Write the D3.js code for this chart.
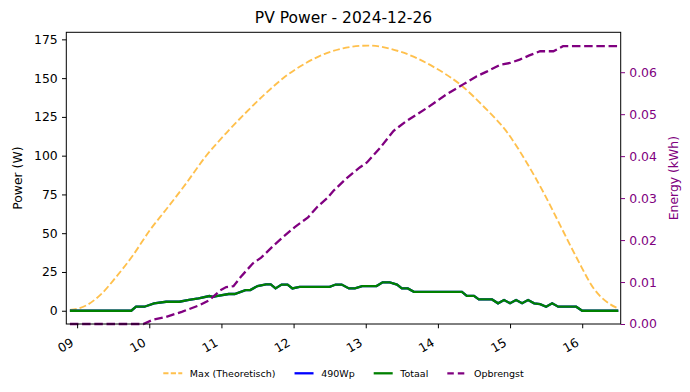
<!DOCTYPE html>
<html>
<head>
<meta charset="utf-8">
<title>PV Power - 2024-12-26</title>
<script src="https://cdn.jsdelivr.net/npm/d3@7"></script>
<style>
body { margin: 0; background: #fff; }
svg text { font-family: "DejaVu Sans", sans-serif; }
</style>
</head>
<body>
<svg width="690" height="392"></svg>
<script>
// theoretical max curve (W)
var maxTimes = ["08:54","09:07","09:20","09:32","09:46","10:01","10:14","10:31","10:47","11:04","11:20","11:37","11:53","12:10","12:27","12:41","13:02","13:29","13:56","14:19","14:38","14:58","15:14","15:28","15:42","15:56","16:10","16:23","16:30"];
var maxVals  = [0.5, 3.2, 10.7, 21.4, 35.3, 52.5, 65.3, 82.5, 99.6, 114.6, 127.5, 140.3, 151, 159.6, 166, 169.2, 171, 167, 157.4, 145.6, 131.7, 114.6, 95.3, 76, 54.6, 33.2, 13.9, 4.3, 1.5];

// measured power (W), one panel so 490Wp == Totaal
var pwrTimes = ["08:54","09:45","09:49","09:56","10:04","10:14","10:25","10:33","10:41","10:50","10:53","10:57","11:06","11:11","11:20","11:24","11:30","11:37","11:41","11:45","11:50","11:55","11:59","12:05","12:30","12:35","12:40","12:46","12:51","12:57","13:09","13:14","13:20","13:26","13:30","13:35","13:40","14:20","14:24","14:30","14:34","14:45","14:50","14:55","15:00","15:05","15:10","15:15","15:20","15:25","15:30","15:35","15:40","15:55","16:00","16:30"];
var p490Vals = [0, 0, 2.6, 2.6, 4.8, 5.8, 5.8, 7.0, 8.0, 9.5, 9.0, 9.6, 10.8, 10.8, 13.3, 13.3, 15.9, 17.0, 17.0, 14.4, 16.9, 16.9, 14.4, 15.4, 15.4, 16.9, 16.9, 14.4, 14.4, 15.9, 15.9, 18.3, 18.3, 16.9, 14.4, 14.4, 12.2, 12.2, 9.6, 9.6, 7.3, 7.3, 4.8, 6.9, 4.8, 6.9, 4.8, 6.9, 4.8, 4.3, 2.6, 4.8, 2.6, 2.6, 0, 0];
var totVals  = p490Vals.slice();

// cumulative energy (kWh)
var enTimes = ["08:54","09:55","10:03","10:14","10:27","10:42","10:50","10:59","11:04","11:10","11:16","11:26","11:33","11:43","11:52","12:01","12:12","12:20","12:28","12:33","12:44","12:55","13:01","13:12","13:23","13:34","13:51","14:07","14:21","14:32","14:41","14:52","15:00","15:08","15:16","15:25","15:36","15:44","16:30"];
var enVals  = [0, 0, 0.0010, 0.0017, 0.0029, 0.0045, 0.0057, 0.0080, 0.0088, 0.0090, 0.0112, 0.0144, 0.0158, 0.0186, 0.0209, 0.0231, 0.0254, 0.0280, 0.0300, 0.0317, 0.0347, 0.0373, 0.0385, 0.0420, 0.0460, 0.0484, 0.0515, 0.0547, 0.0571, 0.0590, 0.0602, 0.0618, 0.0622, 0.0630, 0.0640, 0.0650, 0.0650, 0.0662, 0.0662];

var powerTicks  = [0, 25, 50, 75, 100, 125, 150, 175];
var energyTicks = [0, 0.01, 0.02, 0.03, 0.04, 0.05, 0.06];

var svg = d3.select("svg");
var plotL = 66.3, plotR = 620.7, plotT = 32.3, plotB = 324;
var fs = 12.4;

var parse = d3.timeParse("%Y-%m-%d %H:%M");
function tp(s) { return parse("2024-12-26 " + s); }

var x = d3.scaleTime()
    .domain([tp("08:51"), tp("16:32")])
    .range([plotL, plotR]);

var M = d3.max(maxVals);
var y = d3.scaleLinear()
    .domain([-0.05 * M, 1.05 * M])
    .range([plotB, plotT]);

var y2 = d3.scaleLinear()
    .domain([0, 1.05 * d3.max(enVals)])
    .range([plotB, plotT]);

function pts(times, vals) {
  return times.map(function(t, i) { return [tp(t), vals[i]]; });
}

var line1 = d3.line().x(function(d) { return x(d[0]); }).y(function(d) { return y(d[1]); });
var line2 = d3.line().x(function(d) { return x(d[0]); }).y(function(d) { return y2(d[1]); });
var smooth = d3.line().curve(d3.curveMonotoneX).x(function(d) { return x(d[0]); }).y(function(d) { return y(d[1]); });

// lines
svg.append("path").datum(pts(maxTimes, maxVals))
    .attr("fill", "none").attr("stroke", "orange").attr("stroke-opacity", 0.7)
    .attr("stroke-width", 1.86).attr("stroke-dasharray", "6.9,3")
    .attr("d", smooth);

svg.append("path").datum(pts(pwrTimes, p490Vals))
    .attr("fill", "none").attr("stroke", "blue").attr("stroke-width", 2.3)
    .attr("d", line1);

svg.append("path").datum(pts(pwrTimes, totVals))
    .attr("fill", "none").attr("stroke", "green").attr("stroke-width", 2.3)
    .attr("d", line1);

svg.append("path").datum(pts(enTimes, enVals))
    .attr("fill", "none").attr("stroke", "purple").attr("stroke-width", 2.3)
    .attr("stroke-dasharray", "8.5,3.7")
    .attr("d", line2);

// frame
svg.append("rect")
    .attr("x", plotL).attr("y", plotT)
    .attr("width", plotR - plotL).attr("height", plotB - plotT)
    .attr("fill", "none").attr("stroke", "#000").attr("stroke-width", 1);

// left axis
var gl = svg.append("g").attr("transform", "translate(" + plotL + ",0)")
    .call(d3.axisLeft(y).tickValues(powerTicks).tickSize(4.3).tickPadding(4.3));
gl.select(".domain").remove();
gl.selectAll("text").attr("font-size", fs).attr("font-family", "DejaVu Sans").attr("fill", "#000");

// right axis
var gr = svg.append("g").attr("transform", "translate(" + plotR + ",0)")
    .call(d3.axisRight(y2).tickValues(energyTicks).tickFormat(d3.format(".2f")).tickSize(4.3).tickPadding(4.3));
gr.select(".domain").remove();
gr.selectAll("line").attr("stroke", "purple");
gr.selectAll("text").attr("font-size", fs).attr("font-family", "DejaVu Sans").attr("fill", "purple");

// x axis
var gx = svg.append("g").attr("transform", "translate(0," + plotB + ")")
    .call(d3.axisBottom(x).ticks(d3.timeHour.every(1)).tickFormat(d3.timeFormat("%H")).tickSize(4.3));
gx.select(".domain").remove();
gx.selectAll("text")
    .attr("font-size", fs).attr("font-family", "DejaVu Sans").attr("fill", "#000")
    .attr("x", 0).attr("y", 0).attr("dy", null)
    .attr("text-anchor", "end")
    .attr("transform", "translate(-3,21) rotate(-30)");

// labels
svg.append("text").attr("x", 343.5).attr("y", 23)
    .attr("text-anchor", "middle").attr("font-size", 15.5)
    .text("PV Power - 2024-12-26");

svg.append("text").attr("transform", "translate(21.5," + ((plotT + plotB) / 2) + ") rotate(-90)")
    .attr("text-anchor", "middle").attr("font-size", fs)
    .text("Power (W)");

svg.append("text").attr("transform", "translate(678," + ((plotT + plotB) / 2) + ") rotate(-90)")
    .attr("text-anchor", "middle").attr("font-size", fs).attr("fill", "purple")
    .text("Energy (kWh)");

// legend
var legNames = ["Max (Theoretisch)", "490Wp", "Totaal", "Opbrengst"];
var legColors = ["orange", "blue", "green", "purple"];
var legDash = ["5.2,2.3", null, null, "6.5,4"];
var lf = 9.5;
var leg = svg.append("g");
var widths = [];
var items = legNames.map(function(n, i) {
  var g = leg.append("g");
  g.append("line").attr("x1", 0).attr("x2", 2 * lf).attr("y1", 0).attr("y2", 0)
    .attr("stroke", legColors[i]).attr("stroke-width", i == 0 ? 1.86 : 2.3)
    .attr("stroke-opacity", i == 0 ? 0.7 : 1)
    .attr("stroke-dasharray", legDash[i]);
  var t = g.append("text").attr("x", 2.8 * lf).attr("y", 0).attr("dy", "0.35em")
    .attr("font-size", lf).text(n);
  widths.push(2.8 * lf + t.node().getComputedTextLength());
  return g;
});
var total = d3.sum(widths) + 2 * lf * (widths.length - 1);
var cx = (plotL + plotR) / 2 - total / 2;
items.forEach(function(g, i) {
  g.attr("transform", "translate(" + cx + ",373.3)");
  cx += widths[i] + 2 * lf;
});
</script>
</body>
</html>
